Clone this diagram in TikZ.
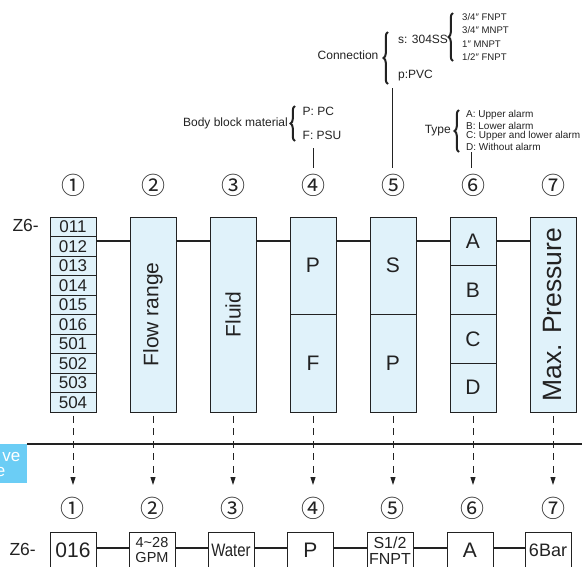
\documentclass[tikz,border=0pt]{standalone}
\usepackage{fontspec}
\setmainfont{Liberation Sans}
\newfontfamily\cjkf{Noto Sans CJK SC}
\newfontfamily\narrowf[FakeStretch=0.83]{Liberation Sans}
\usetikzlibrary{arrows.meta,decorations.pathreplacing}
\definecolor{boxblue}{HTML}{E0F2FA}
\definecolor{tagblue}{HTML}{6BCDF5}
\definecolor{ink}{HTML}{222222}
\newcommand{\fsz}[1]{\fontsize{#1}{#1}\selectfont}
\begin{document}
\begin{tikzpicture}[x=1pt,y=-1pt,
  tbox/.style={draw=ink, line width=0.8pt, fill=boxblue, inner sep=0pt, minimum width=46pt},
  bbox/.style={draw=ink, line width=0.8pt, fill=white, inner sep=0pt, minimum width=46pt, minimum height=36pt, align=center},
  conn/.style={line width=2pt, draw=ink},
  darrow/.style={line width=1pt, draw=ink, dash pattern=on 7pt off 5.5pt, dash phase=9pt, -{Triangle[length=8pt,width=5pt]}},
  cnum/.style={font=\cjkf\fsz{24}, inner sep=0pt, text=ink},
  lbl/.style={inner sep=0pt, text=ink},
  vline/.style={line width=1pt, draw=ink},
  brc/.style={decorate, decoration={brace, amplitude=4.5pt}, line width=2pt, draw=ink},
  big/.style={font=\fsz{21}, text=ink},
  ]
\useasboundingbox (0,0) rectangle (582,566);

% ---- tag at left edge
\node[fill=tagblue, minimum width=27pt, minimum height=39pt, inner sep=0pt, anchor=north west] (tag) at (0,444) {};
\node[anchor=east, inner sep=0pt, text=white, font=\fsz{17}] (tagt1) at (20.5,457) {ve};
\node[anchor=east, inner sep=0pt, text=white, font=\fsz{17}] (tagt2) at (5.5,472) {e};
\coordinate (hl) at (582,444);
\draw[line width=1.2pt, draw=ink] (tag.north east) -- (hl);

% ---- top circled numbers
\foreach \i/\x in {1/73,2/153,3/233,4/313,5/393,6/473,7/553}{
  \node[cnum] (n\i) at (\x,185) {\ifcase\i\or ①\or ②\or ③\or ④\or ⑤\or ⑥\or ⑦\fi};
}
\node[lbl, font=\fsz{17.5}, anchor=east] (z6a) at (39,225) {Z6-};

% ---- column 1
\foreach \i/\t in {1/011,2/012,3/013,4/014,5/015,6/016,7/501,8/502,9/503,10/504}{
  \node[tbox, minimum height=19.5pt, font=\fsz{17}, text=ink] (r\i) at (73,{217+19.5*(\i-0.5)}) {\t};
}
% ---- column 2, 3, 7
\node[tbox, minimum height=195pt] (b2) at (153,314.5) {};
\node[rotate=90, big] (t2) at (b2) {Flow range};
\node[tbox, minimum height=195pt] (b3) at (233,314.5) {};
\node[rotate=90, big] (t3) at (b3) {Fluid};
\node[tbox, minimum height=195pt] (b7) at (553,314.5) {};
\node[rotate=90, font=\fsz{26.5}, text=ink] (t7) at (b7) {Max. Pressure};
% ---- column 4, 5
\node[tbox, minimum height=97.5pt, big] (b4a) at (313,265.75) {P};
\node[tbox, minimum height=97.5pt, big] (b4b) at (313,363.25) {F};
\node[tbox, minimum height=97.5pt, big] (b5a) at (393,265.75) {S};
\node[tbox, minimum height=97.5pt, big] (b5b) at (393,363.25) {P};
% ---- column 6
\foreach \i/\t in {1/A,2/B,3/C,4/D}{
  \node[tbox, minimum height=48.75pt, big] (b6\i) at (473,{217+48.75*(\i-0.5)}) {\t};
}
% ---- top connectors
\coordinate (L) at (0,241);
\draw[conn] (r2.east |- L) -- (b2.west |- L);
\draw[conn] (b2.east |- L) -- (b3.west |- L);
\draw[conn] (b3.east |- L) -- (b4a.west |- L);
\draw[conn] (b4a.east |- L) -- (b5a.west |- L);
\draw[conn] (b5a.east |- L) -- (b61.west |- L);
\draw[conn] (b61.east |- L) -- (b7.west |- L);

% ---- annotations: connection
\node[lbl, font=\fsz{12}, anchor=west] (con) at (317.5,55) {Connection};
\draw[brc] (388,84) -- (388,32);
\node[lbl, font=\fsz{12}, anchor=west] (ss) at (398,39) {s: 304SS};
\node[lbl, font=\fsz{12}, anchor=west] (pvc) at (398,76) {p:PVC};
\draw[brc] (453,61) -- (453,13);
\node[lbl, font=\fsz{9.6}, anchor=west] (s1) at (462,17) {3/4″ FNPT};
\node[lbl, font=\fsz{9.6}, anchor=west] (s2) at (462,30.5) {3/4″ MNPT};
\node[lbl, font=\fsz{9.6}, anchor=west] (s3) at (462,44) {1″ MNPT};
\node[lbl, font=\fsz{9.6}, anchor=west] (s4) at (462,57) {1/2″ FNPT};
\coordinate (v5t) at (392,88);
\coordinate (v5b) at (392,168);
\draw[vline] (v5t) -- (v5b);

% ---- annotations: body block
\node[lbl, font=\fsz{12}, anchor=east] (body) at (288,123.5) {Body block material};
\draw[brc] (295,141) -- (295,106);
\node[lbl, font=\fsz{12}, anchor=west] (ppc) at (302.5,111) {P: PC};
\node[lbl, font=\fsz{12}, anchor=west] (fpsu) at (302.5,135.5) {F: PSU};
\coordinate (v4t) at (313,148);
\coordinate (v4b) at (313,168);
\draw[vline] (v4t) -- (v4b);

% ---- annotations: type
\node[lbl, font=\fsz{12}, anchor=east] (type) at (451,131) {Type};
\draw[brc] (459,152) -- (459,110);
\node[lbl, font=\fsz{10}, anchor=west] (ta) at (466,115) {A: Upper alarm};
\node[lbl, font=\fsz{10}, anchor=west] (tb) at (466,125.5) {B: Lower alarm};
\node[lbl, font=\fsz{10}, anchor=west] (tc) at (466,136) {C: Upper and lower alarm};
\node[lbl, font=\fsz{10}, anchor=west] (td) at (466,146.5) {D: Without alarm};
\coordinate (v6t) at (471,152);
\coordinate (v6b) at (471,168);
\draw[vline] (v6t) -- (v6b);

% ---- bottom circled numbers
\foreach \i/\x in {1/72.5,2/152.5,3/232.5,4/313,5/392.5,6/472.5,7/553}{
  \node[cnum] (m\i) at (\x,508) {\ifcase\i\or ①\or ②\or ③\or ④\or ⑤\or ⑥\or ⑦\fi};
}
% ---- dashed arrows
\foreach \s/\x in {r10/73,b2/153,b3/233,b4b/313,b5b/393,b64/473,b7/553}{
  \coordinate (e\s) at (\x,485);
  \draw[darrow] (\s.south) -- (e\s);
}

% ---- bottom row
\node[lbl, font=\fsz{17.5}, anchor=east] (z6b) at (36,549) {Z6-};
\node[bbox, font=\fsz{21}, text=ink] (c1) at (73,550) {016};
\node[bbox, font=\fsz{14.5}, text=ink] (c2) at (152,550) {\fontsize{14.5}{12.5}\selectfont 4\char`~28\\GPM};
\node[bbox, font=\narrowf\fsz{18}, text=ink] (c3) at (231,550) {Water};
\node[bbox, font=\fsz{21}, text=ink] (c4) at (310.5,550) {P};
\node[bbox, font=\fsz{16}, text=ink, anchor=north] (c5) at (390,532) {\fontsize{16}{16.5}\selectfont S1/2\\FNPT};
\node[bbox, font=\fsz{21}, text=ink] (c6) at (470,550) {A};
\node[bbox, font=\fsz{18}, text=ink] (c7) at (548,550) {6Bar};
\coordinate (L2) at (0,548);
\draw[conn] (c1.east |- L2) -- (c2.west |- L2);
\draw[conn] (c2.east |- L2) -- (c3.west |- L2);
\draw[conn] (c3.east |- L2) -- (c4.west |- L2);
\draw[conn] (c4.east |- L2) -- (c5.west |- L2);
\draw[conn] (c5.east |- L2) -- (c6.west |- L2);
\draw[conn] (c6.east |- L2) -- (c7.west |- L2);
\end{tikzpicture}
\end{document}
